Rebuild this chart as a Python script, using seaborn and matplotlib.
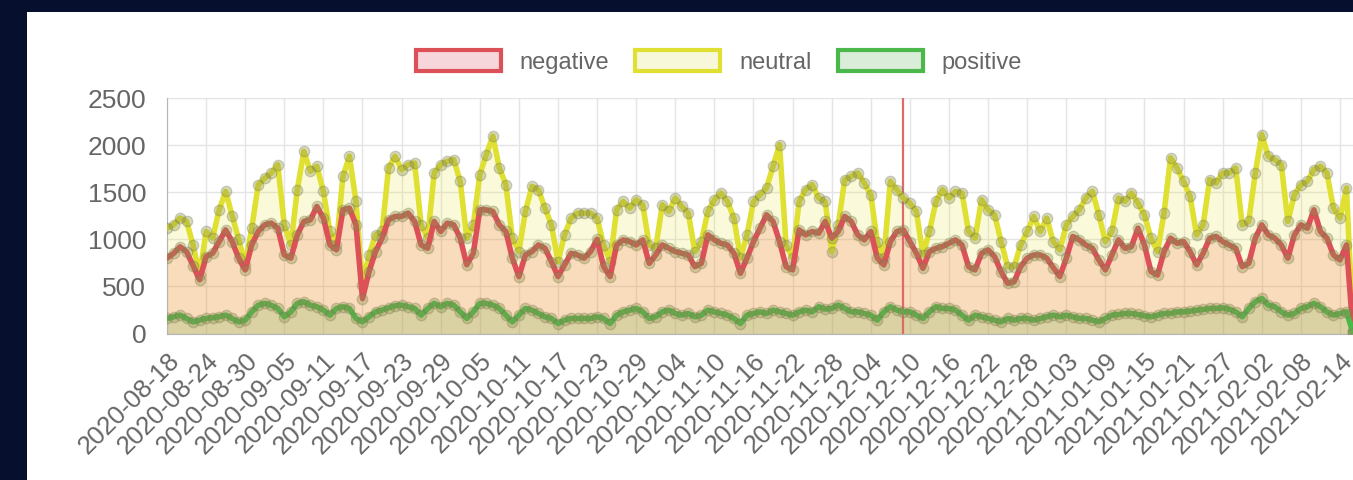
import pandas as pd
import matplotlib.pyplot as plt
import seaborn as sns
from matplotlib.patches import Patch, Rectangle

# daily sentiment counts, 2020-08-18 .. 2021-02-16
start_date = "2020-08-18"
marker_date = "2020-12-09"

negative = [
    800, 850, 920, 870, 720, 570, 816, 852, 976, 1100, 976, 800, 675, 940, 1083, 1154, 1172, 1118, 834, 800,
    1047, 1190, 1207, 1349, 1225, 940, 888, 1314, 1331, 1154, 370, 657, 870, 1012, 1207, 1243, 1243, 1278, 1190, 940,
    905, 1190, 1083, 1172, 1154, 1012, 730, 850, 1313, 1313, 1296, 1154, 1083, 800, 604, 834, 870, 940, 905, 763,
    604, 728, 852, 834, 800, 870, 1000, 710, 604, 940, 994, 976, 940, 994, 745, 834, 940, 905, 870, 852,
    834, 710, 745, 1047, 994, 958, 940, 852, 639, 800, 976, 1118, 1260, 1190, 976, 710, 675, 1100, 1047, 1083,
    1065, 1190, 1012, 1083, 1243, 1190, 1047, 994, 1083, 800, 728, 976, 1083, 1100, 976, 852, 692, 870, 905, 923,
    958, 994, 940, 710, 675, 852, 888, 816, 657, 533, 550, 710, 800, 834, 834, 800, 700, 604, 800, 1030,
    994, 940, 905, 781, 675, 834, 994, 905, 923, 1118, 940, 657, 621, 870, 1012, 958, 976, 870, 728, 852,
    1012, 1030, 976, 940, 905, 710, 745, 1012, 1154, 1047, 1012, 940, 800, 1047, 1154, 1118, 1313, 1083, 1012, 834,
    781, 940, 20,
]
neutral = [
    1120, 1154, 1225, 1190, 940, 620, 1083, 1012, 1313, 1509, 1250, 1000, 730, 1118, 1580, 1650, 1704, 1793, 1154, 940,
    1527, 1935, 1722, 1775, 1509, 1083, 940, 1669, 1882, 1402, 520, 834, 1047, 1083, 1757, 1882, 1740, 1793, 1810, 1154,
    1012, 1704, 1793, 1828, 1846, 1615, 1012, 1150, 1686, 1900, 2095, 1757, 1580, 1012, 870, 1296, 1562, 1527, 1331, 1154,
    763, 1047, 1225, 1278, 1278, 1278, 1225, 940, 763, 1313, 1402, 1331, 1420, 1367, 940, 905, 1367, 1296, 1438, 1349,
    1278, 870, 976, 1296, 1420, 1491, 1402, 1225, 800, 1047, 1402, 1473, 1544, 1775, 2005, 940, 800, 1402, 1527, 1580,
    1438, 1402, 870, 1150, 1633, 1669, 1704, 1598, 1473, 976, 800, 1615, 1527, 1438, 1385, 1296, 834, 1083, 1402, 1527,
    1438, 1509, 1491, 1083, 1012, 1420, 1313, 1260, 976, 710, 710, 940, 1083, 1243, 1083, 1225, 976, 888, 1154, 1243,
    1313, 1438, 1509, 1260, 976, 1083, 1438, 1402, 1491, 1385, 1260, 1012, 870, 1278, 1864, 1757, 1615, 1456, 1047, 1154,
    1633, 1598, 1704, 1704, 1757, 1154, 1190, 1704, 2112, 1882, 1846, 1793, 1190, 1473, 1580, 1615, 1740, 1775, 1704, 1331,
    1225, 1544, 40,
]
positive = [
    160, 178, 195, 160, 124, 142, 160, 167, 178, 195, 160, 124, 142, 230, 300, 320, 300, 266, 178, 230,
    320, 337, 300, 284, 248, 195, 266, 284, 266, 160, 124, 178, 230, 248, 273, 295, 302, 284, 266, 195,
    266, 320, 284, 320, 302, 230, 160, 230, 320, 320, 302, 266, 195, 124, 195, 266, 248, 213, 178, 160,
    106, 142, 160, 160, 160, 160, 178, 160, 106, 195, 230, 248, 266, 230, 160, 178, 230, 248, 213, 195,
    213, 178, 195, 248, 230, 213, 195, 160, 106, 195, 213, 230, 213, 248, 230, 213, 195, 230, 248, 230,
    284, 260, 266, 302, 266, 230, 230, 213, 195, 142, 230, 284, 248, 230, 230, 195, 160, 230, 284, 266,
    266, 248, 195, 142, 195, 178, 160, 142, 124, 160, 142, 160, 160, 142, 160, 178, 195, 178, 195, 178,
    160, 160, 142, 124, 160, 195, 202, 213, 213, 202, 188, 178, 195, 213, 213, 230, 230, 238, 248, 255,
    266, 266, 273, 259, 230, 178, 266, 337, 373, 302, 284, 230, 195, 213, 266, 284, 320, 284, 230, 195,
    213, 230, 10,
]

dates = pd.date_range(start_date, periods=len(negative), freq="D")
df = pd.DataFrame({"date": dates, "negative": negative, "neutral": neutral, "positive": positive})

sns.set_style("white")
plt.rcParams["font.family"] = ["Liberation Sans", "DejaVu Sans"]

W, H = 1353, 480
fig = plt.figure(figsize=(W / 100, H / 100), dpi=100, facecolor="#06102e")
fig.patches.append(Rectangle((27 / W, 0), 1, 1 - 12 / H, transform=fig.transFigure,
                             facecolor="white", edgecolor="none", zorder=-5))
ax = fig.add_axes([167 / W, 1 - 333.5 / H, 1 - 167 / W, (333.5 - 98) / H])
ax.set_facecolor("none")

styles = {
    "neutral": ("#dfe032", (0.90, 0.90, 0.20, 0.18)),
    "negative": ("#dc5058", (0.94, 0.40, 0.25, 0.20)),
    "positive": ("#4cb84c", (0.35, 0.65, 0.25, 0.18)),
}

for name in ["neutral", "negative", "positive"]:
    line_c, fill_c = styles[name]
    ax.fill_between(df["date"], 0, df[name], color=fill_c, lw=0, zorder=1)
    sns.lineplot(data=df, x="date", y=name, ax=ax, color=line_c, lw=4, zorder=3,
                 marker="o", markersize=7.5, markerfacecolor=(0.55, 0.58, 0.30, 0.35),
                 markeredgecolor=(0.45, 0.45, 0.3, 0.3), markeredgewidth=1,
                 solid_joinstyle="round", legend=False)

ax.axvline(pd.Timestamp(marker_date), color="#e06a6a", lw=1.6, zorder=2)

ax.set_ylim(0, 2500)
ax.set_xlim(dates[0], dates[-1])
ax.set_yticks(range(0, 2501, 500))
ticks = dates[::6]
ax.set_xticks(ticks)
ax.set_xticklabels([d.strftime("%Y-%m-%d") for d in ticks], rotation=45, ha="right",
                   rotation_mode="anchor")
ax.grid(True, color="#e4e4e4", lw=1)
ax.tick_params(axis="both", length=7, color="#e0e0e0", labelcolor="#666666")
ax.tick_params(axis="y", labelsize=19, pad=8)
ax.tick_params(axis="x", labelsize=18.5, pad=4)
ax.set_xlabel("")
ax.set_ylabel("")
for side in ["top", "right"]:
    ax.spines[side].set_visible(False)
ax.spines["left"].set_color("#b5b5b5")
ax.spines["bottom"].set_color("#b5b5b5")

handles = [Patch(facecolor=(0.97, 0.84, 0.86), edgecolor="#dc5058", lw=3, label="negative"),
           Patch(facecolor=(0.97, 0.97, 0.85), edgecolor="#dfe032", lw=3, label="neutral"),
           Patch(facecolor=(0.85, 0.93, 0.85), edgecolor="#4cb84c", lw=3, label="positive")]
leg = fig.legend(handles=handles, loc="center", bbox_to_anchor=(719 / W, 1 - 62 / H), ncol=3,
                 frameon=False, fontsize=17, handlelength=3.6, handleheight=1.0,
                 columnspacing=1.1, handletextpad=0.8)
for t in leg.get_texts():
    t.set_color("#666666")

fig.savefig("out.png", dpi=100, facecolor=fig.get_facecolor())
